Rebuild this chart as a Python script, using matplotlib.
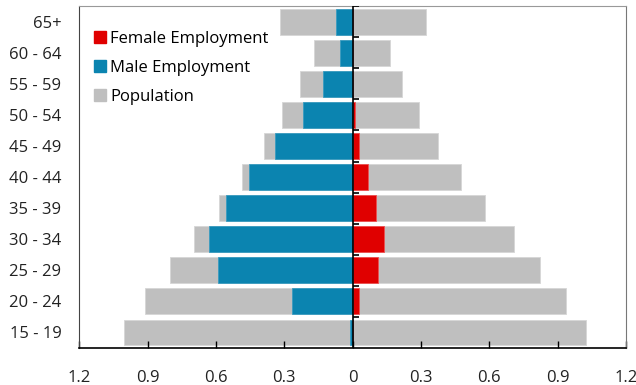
import matplotlib
matplotlib.use("Agg")
import matplotlib.pyplot as plt
from matplotlib.lines import Line2D
import numpy as np

plt.rcParams['font.family'] = ['Open Sans', 'DejaVu Sans']

# faixas etárias, de baixo para cima
faixas = ['15 - 19', '20 - 24', '25 - 29', '30 - 34', '35 - 39', '40 - 44',
          '45 - 49', '50 - 54', '55 - 59', '60 - 64', '65+']

# população (lado esquerdo = homens, lado direito = mulheres)
pop_homens = [1.005, 0.913, 0.804, 0.696, 0.585, 0.487, 0.39, 0.31, 0.23, 0.17, 0.32]
pop_mulheres = [1.023, 0.935, 0.822, 0.708, 0.583, 0.476, 0.375, 0.29, 0.217, 0.165, 0.32]

# emprego
emp_homens = [0.013, 0.268, 0.589, 0.629, 0.554, 0.456, 0.343, 0.217, 0.13, 0.055, 0.075]
emp_mulheres = [0.0, 0.03, 0.11, 0.139, 0.104, 0.069, 0.03, 0.01, 0.0, 0.0, 0.0]

x_ticks = [-1.2, -0.9, -0.6, -0.3, 0, 0.3, 0.6, 0.9, 1.2]
x_labels = ['1.2', '0.9', '0.6', '0.3', '0', '0.3', '0.6', '0.9', '1.2']

cinza = '#bfbfbf'
azul = '#0b84b0'
vermelho = '#e00000'

fig = plt.figure(figsize=(6.36, 3.85), dpi=100)
ax = fig.add_axes([0.1247, 0.0961, 0.8596, 0.8880])

y = np.arange(len(faixas))
h = 0.83

ax.barh(y, -np.array(pop_homens), height=h, color=cinza, edgecolor='#d6d6d6', linewidth=0.6)
ax.barh(y, pop_mulheres, height=h, color=cinza, edgecolor='#d6d6d6', linewidth=0.6)
ax.barh(y, -np.array(emp_homens), height=h, color=azul, edgecolor='#3a9cc0', linewidth=0.6)
ax.barh(y, emp_mulheres, height=h, color=vermelho, edgecolor='#ee5050', linewidth=0.6)

ax.axvline(0, color='black', linewidth=1.2, zorder=4)

# marcas entre as barras no eixo do zero
limites = np.arange(len(faixas)) + 0.5
ax.hlines(limites, 0, 0.028, color='black', linewidth=1.2, zorder=5)

ax.set_xlim(-1.2, 1.2)
ax.set_ylim(-0.5, len(faixas) - 0.5)

ax.set_yticks(y)
ax.set_yticklabels(faixas, fontsize=12, color='#222222')
ax.tick_params(axis='y', length=0, pad=13)

ax.set_xticks(x_ticks)
ax.set_xticklabels(x_labels, fontsize=12, color='#222222')
ax.tick_params(axis='x', direction='in', length=5, width=1, pad=16)

ax.spines['top'].set_color('#999999')
ax.spines['right'].set_color('#777777')
ax.spines['left'].set_color('#444444')
ax.spines['bottom'].set_color('black')
ax.spines['bottom'].set_linewidth(1.2)

proxies = [Line2D([0], [0], marker='s', linestyle='', markersize=9,
                  markerfacecolor=c, markeredgecolor=c) for c in [vermelho, azul, cinza]]
ax.legend(proxies, ['Female Employment', 'Male Employment', 'Population'],
          loc='upper left', frameon=False, fontsize=12, handletextpad=0.15,
          labelspacing=0.78, borderaxespad=0.0, handlelength=0.9,
          bbox_to_anchor=(0.012, 0.946))

fig.savefig('out.png', dpi=100)
